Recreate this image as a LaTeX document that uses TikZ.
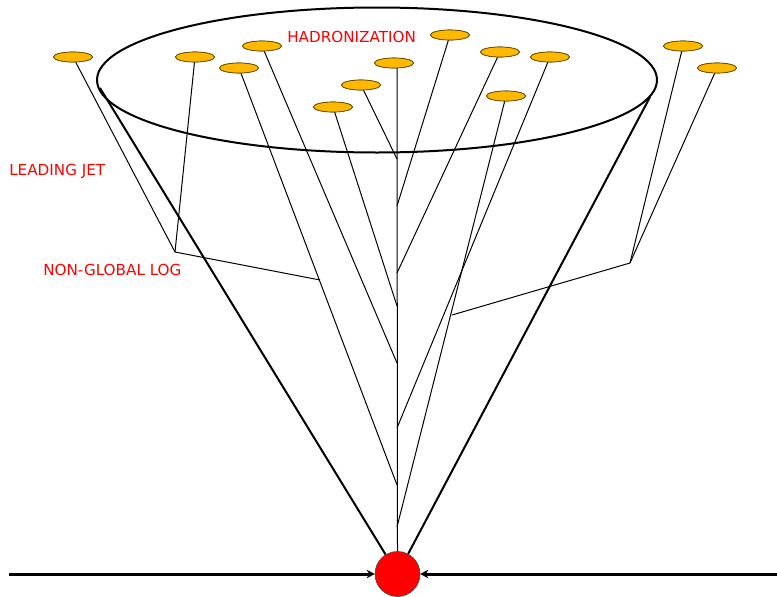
\documentclass[tikz,border=0pt]{standalone}
\usepackage{fontspec}
\setmainfont{DejaVu Sans}
\usetikzlibrary{shapes.geometric,arrows.meta}
\definecolor{blobfill}{RGB}{255,184,0}
\definecolor{blobline}{RGB}{90,70,0}
\begin{document}
\begin{tikzpicture}[x=0.75pt,y=-0.75pt,
  blob/.style={ellipse,draw=blobline,fill=blobfill,line width=0.5pt,minimum width=29.25pt,minimum height=7.5pt,inner sep=0pt},
  parton/.style={line width=0.75pt},
  conel/.style={line width=1.5pt},
  beam/.style={line width=2.25pt,-{Stealth[length=6pt,width=6.5pt]}},
  lbl/.style={text=red,font=\fontsize{11.4}{13}\selectfont,inner sep=0pt,anchor=base west}]
\useasboundingbox (0,0) rectangle (777,596);
% hadronization ellipse
\node[ellipse,draw,line width=1.5pt,minimum width=420pt,minimum height=108.75pt,inner sep=0pt] (cone) at (377,80) {};
% interaction vertex
\node[circle,draw=black!70,fill=red,line width=0.5pt,minimum size=33.75pt,inner sep=0pt] (v) at (397.5,574) {};
% cone tangent points
\coordinate (cl) at (100,88);
\coordinate (cr) at (650,97);
\draw[conel] (cl) -- (v);
\draw[conel] (cr) -- (v);
% beams
\coordinate (bl) at (9,574);
\coordinate (br) at (777,574);
\draw[beam] (bl) -- (v.west);
\draw[beam] (br) -- (v.east);
% hadrons
\node[blob] (b1) at (73,57) {};
\node[blob] (b2) at (195,57) {};
\node[blob] (b3) at (262,46) {};
\node[blob] (b4) at (239,68) {};
\node[blob] (b5) at (361,85) {};
\node[blob] (b6) at (333,107) {};
\node[blob] (b7) at (394,63) {};
\node[blob] (b8) at (450,35) {};
\node[blob] (b9) at (500,52) {};
\node[blob] (b10) at (550,57) {};
\node[blob] (b11) at (506,96) {};
\node[blob] (b12) at (683,46) {};
\node[blob] (b13) at (717,68) {};
% joints on the central line
\coordinate (j5) at (397,159);
\coordinate (j8) at (397,206);
\coordinate (j9) at (397,273);
\coordinate (j6) at (397,306);
\coordinate (j3) at (397,363);
\coordinate (j10) at (397,428);
\coordinate (j4) at (397,485);
\coordinate (j11) at (397,527);
\coordinate (ctop) at (397,68);
% non-global joints
\coordinate (ngl) at (175,252);
\coordinate (pl) at (320,280);
\coordinate (ngr) at (630,263);
\coordinate (pr) at (452,315);
% partons
\begin{scope}[parton]
\draw (ctop) -- (v.north);
\draw (b5) -- (j5);
\draw (b8) -- (j8);
\draw (b9) -- (j9);
\draw (b6) -- (j6);
\draw (b3) -- (j3);
\draw (b10) -- (j10);
\draw (b4) -- (j4);
\draw (b11) -- (j11);
\draw (b1) -- (ngl);
\draw (b2) -- (ngl);
\draw (ngl) -- (pl);
\draw (b12) -- (ngr);
\draw (b13) -- (ngr);
\draw (ngr) -- (pr);
\end{scope}
% redraw hadrons on top
\foreach \b in {b1,b2,b3,b4,b5,b6,b7,b8,b9,b10,b11,b12,b13}{
  \node[blob] at (\b) {};
}
% labels
\node[lbl] (had) at (287,42) {HADRONIZATION};
\node[lbl] (lead) at (9,175) {LEADING JET};
\node[lbl] (ngllbl) at (43,275) {NON-GLOBAL LOG};
\end{tikzpicture}
\end{document}
